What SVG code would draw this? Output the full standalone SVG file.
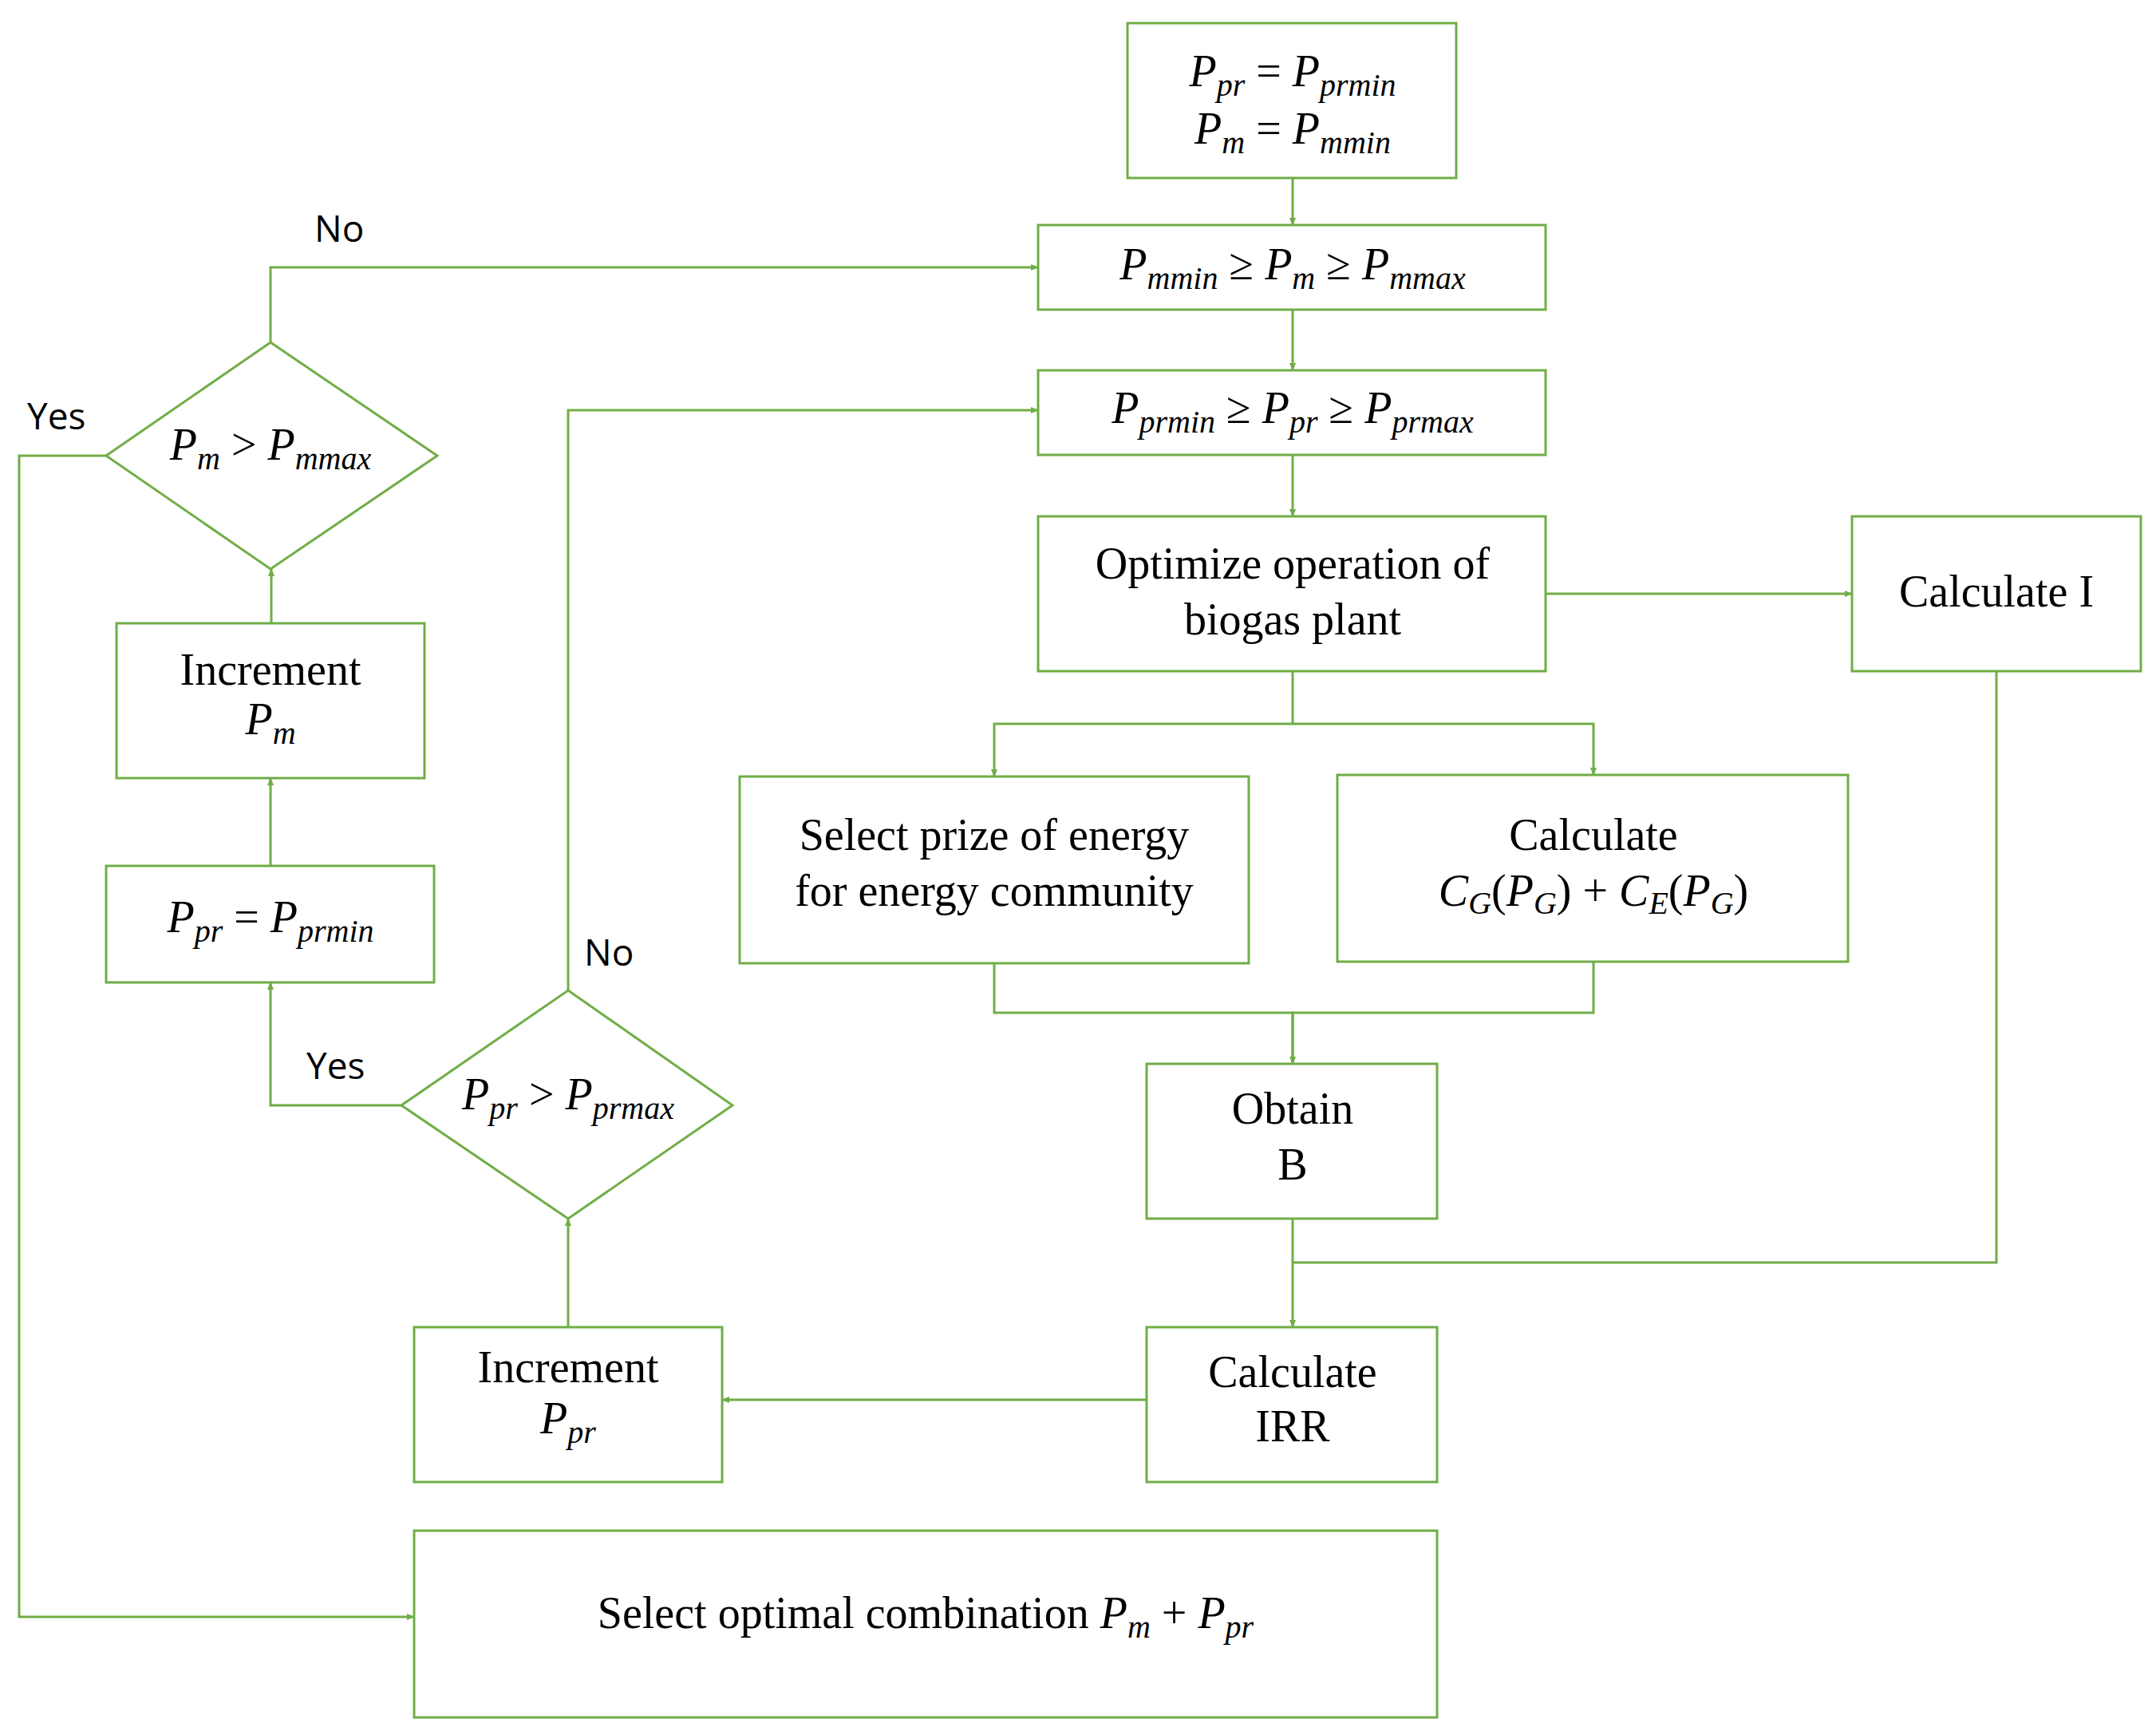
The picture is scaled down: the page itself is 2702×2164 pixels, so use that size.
<svg xmlns="http://www.w3.org/2000/svg" width="2702" height="2164" viewBox="0 0 2702 2164">
<style>
.b{fill:#fff;stroke:#70ad47;stroke-width:3}
.c{fill:none;stroke:#70ad47;stroke-width:3}
text{font-family:"Liberation Serif","DejaVu Serif",serif;font-size:56px;fill:#000;text-anchor:middle}
.i{font-style:italic}
.s{font-size:40px;font-style:italic}
.l{font-family:"Open Sans","Liberation Sans",sans-serif;font-size:46px;text-anchor:start}
</style>
<defs><marker id="a" markerWidth="10" markerHeight="10" refX="9" refY="5" orient="auto" markerUnits="userSpaceOnUse"><path d="M0,1 L10,5 L0,9 Z" fill="#70ad47"/></marker></defs>
<rect width="2702" height="2164" fill="#fff"/>
<g id="connectors" class="c" marker-end="url(#a)">
<path d="M1620,223 V282"/>
<path d="M1620,388 V464"/>
<path d="M1620,570 V647"/>
<path d="M1937,744 H2321"/>
<path d="M1620,841 V907 H1246 V973"/>
<path d="M1620,907 H1997 V971"/>
<path d="M1246,1207 V1269 H1620 V1333" marker-end="none"/>
<path d="M1997,1205 V1269 H1620 V1333"/>
<path d="M2502,841 V1582 H1620" marker-end="none"/>
<path d="M1620,1527 V1663"/>
<path d="M1437,1754 H905"/>
<path d="M712,1663 V1527"/>
<path d="M712,1241 V514 H1301"/>
<path d="M503,1385 H339 V1231"/>
<path d="M339,1085 V975"/>
<path d="M340,781 V713"/>
<path d="M339,429 V335 H1301"/>
<path d="M133,571 H24 V2026 H519"/>
</g>
<g id="n1"><rect class="b" x="1413" y="29" width="412" height="194"/>
<text x="1620" y="108" class="i">P<tspan class="s" dy="12">pr</tspan><tspan dy="-12" font-style="normal"> = </tspan>P<tspan class="s" dy="12">prmin</tspan></text>
<text x="1620" y="180" class="i">P<tspan class="s" dy="12">m</tspan><tspan dy="-12" font-style="normal"> = </tspan>P<tspan class="s" dy="12">mmin</tspan></text></g>
<g id="n2"><rect class="b" x="1301" y="282" width="636" height="106"/>
<text x="1620" y="350" class="i">P<tspan class="s" dy="12">mmin</tspan><tspan dy="-12" font-style="normal"> ≥ </tspan>P<tspan class="s" dy="12">m</tspan><tspan dy="-12" font-style="normal"> ≥ </tspan>P<tspan class="s" dy="12">mmax</tspan></text></g>
<g id="n3"><rect class="b" x="1301" y="464" width="636" height="106"/>
<text x="1620" y="530" class="i">P<tspan class="s" dy="12">prmin</tspan><tspan dy="-12" font-style="normal"> ≥ </tspan>P<tspan class="s" dy="12">pr</tspan><tspan dy="-12" font-style="normal"> ≥ </tspan>P<tspan class="s" dy="12">prmax</tspan></text></g>
<g id="n4"><rect class="b" x="1301" y="647" width="636" height="194"/>
<text x="1620" y="725">Optimize operation of</text><text x="1620" y="795">biogas plant</text></g>
<g id="n5"><rect class="b" x="2321" y="647" width="362" height="194"/>
<text x="2502" y="760">Calculate I</text></g>
<g id="n6"><rect class="b" x="927" y="973" width="638" height="234"/>
<text x="1246" y="1065">Select prize of energy</text><text x="1246" y="1135">for energy community</text></g>
<g id="n7"><rect class="b" x="1676" y="971" width="640" height="234"/>
<text x="1997" y="1065">Calculate</text>
<text x="1997" y="1135" class="i">C<tspan class="s" dy="10">G</tspan><tspan dy="-10" font-style="normal">(</tspan>P<tspan class="s" dy="10">G</tspan><tspan dy="-10" font-style="normal">) + </tspan>C<tspan class="s" dy="10">E</tspan><tspan dy="-10" font-style="normal">(</tspan>P<tspan class="s" dy="10">G</tspan><tspan dy="-10" font-style="normal">)</tspan></text></g>
<g id="n8"><rect class="b" x="1437" y="1333" width="364" height="194"/>
<text x="1620" y="1408">Obtain</text><text x="1620" y="1478">B</text></g>
<g id="n9"><rect class="b" x="1437" y="1663" width="364" height="194"/>
<text x="1620" y="1738">Calculate</text><text x="1620" y="1806">IRR</text></g>
<g id="n10"><rect class="b" x="519" y="1663" width="386" height="194"/>
<text x="712" y="1732">Increment</text><text x="712" y="1796" class="i">P<tspan class="s" dy="12">pr</tspan></text></g>
<g id="n11"><rect class="b" x="519" y="1918" width="1282" height="234"/>
<text x="1160" y="2040">Select optimal combination <tspan font-style="italic">P</tspan><tspan class="s" dy="12">m</tspan><tspan dy="-12"> + </tspan><tspan font-style="italic">P</tspan><tspan class="s" dy="12">pr</tspan></text></g>
<g id="n12"><rect class="b" x="146" y="781" width="386" height="194"/>
<text x="339" y="858">Increment</text><text x="339" y="920" class="i">P<tspan class="s" dy="12">m</tspan></text></g>
<g id="n13"><rect class="b" x="133" y="1085" width="411" height="146"/>
<text x="339" y="1168" class="i">P<tspan class="s" dy="12">pr</tspan><tspan dy="-12" font-style="normal"> = </tspan>P<tspan class="s" dy="12">prmin</tspan></text></g>
<g id="d1"><path class="b" d="M339,429 L548,571 L339,713 L133,571 Z"/>
<text x="339" y="576" class="i">P<tspan class="s" dy="12">m</tspan><tspan dy="-12" font-style="normal"> &gt; </tspan>P<tspan class="s" dy="12">mmax</tspan></text></g>
<g id="d2"><path class="b" d="M712,1241 L918,1385 L712,1527 L503,1385 Z"/>
<text x="712" y="1390" class="i">P<tspan class="s" dy="12">pr</tspan><tspan dy="-12" font-style="normal"> &gt; </tspan>P<tspan class="s" dy="12">prmax</tspan></text></g>
<g id="labels">
<text class="l" x="394" y="303">No</text>
<text class="l" x="34" y="538">Yes</text>
<text class="l" x="732" y="1210">No</text>
<text class="l" x="384" y="1352">Yes</text>
</g>
</svg>
